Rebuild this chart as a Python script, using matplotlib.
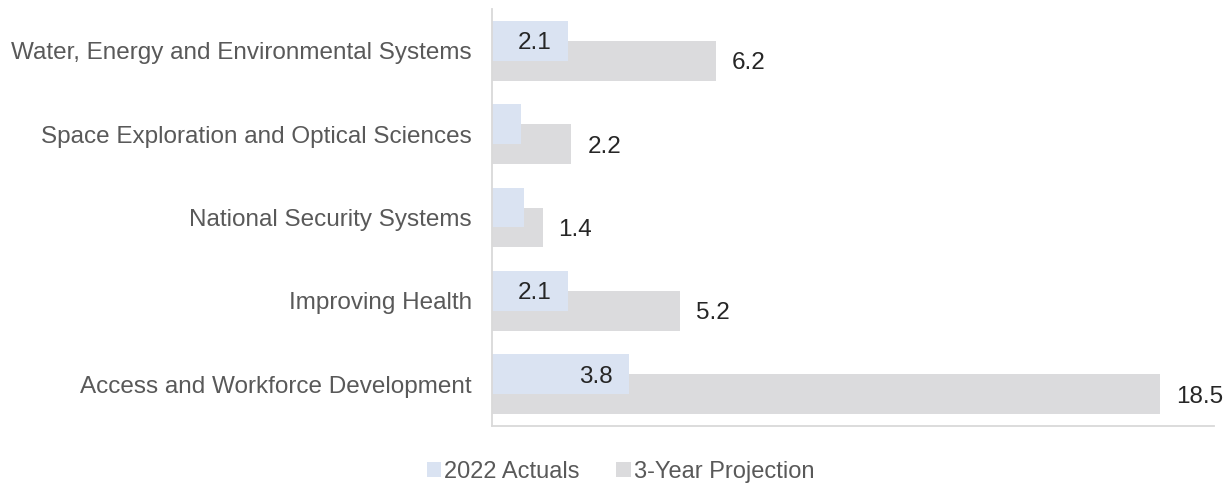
import matplotlib
matplotlib.use("Agg")
import matplotlib.pyplot as plt
import numpy as np
from matplotlib.patches import Patch

categories = ["Water, Energy and Environmental Systems",
              "Space Exploration and Optical Sciences",
              "National Security Systems",
              "Improving Health",
              "Access and Workforce Development"]
actuals_2022 = [2.1, 0.8, 0.9, 2.1, 3.8]
projection_3yr = [6.2, 2.2, 1.4, 5.2, 18.5]
show_actual_label = [True, False, False, True, True]
series_names = ["2022 Actuals", "3-Year Projection"]

plt.rcParams['font.family'] = ['Liberation Sans', 'DejaVu Sans']
FS = 17.5
blue = "#DAE3F2"
grey = "#DBDBDD"
label_grey = "#595959"
val_col = "#262626"

fig = plt.figure(figsize=(12.32, 4.88), dpi=100)
ax = fig.add_axes([492/1232, 1-426/488, (1214-492)/1232, (426-9)/488])

n = len(categories)
y = np.arange(n)[::-1].astype(float)
h = 0.479
off = 0.12
ax.barh(y + off, actuals_2022, height=h, color=blue, zorder=2)
ax.barh(y - off, projection_3yr, height=h, color=grey, zorder=1)

px = 20 / (1214 - 492)  # data units per pixel
for yi, a, p, show in zip(y, actuals_2022, projection_3yr, show_actual_label):
    if show:
        ax.text(a - 16*px, yi + off, f"{a:.1f}", ha="right", va="center_baseline",
                fontsize=FS, color=val_col, zorder=3)
    ax.text(p + 16*px, yi - off, f"{p:.1f}", ha="left", va="center_baseline",
            fontsize=FS, color=val_col, zorder=3)

ax.set_xlim(0, 20)
ax.set_ylim(-0.5, n - 0.5)
ax.set_yticks(y)
ax.set_yticklabels(categories, fontsize=FS, color=label_grey)
ax.tick_params(axis="y", length=0, pad=14.4)
ax.set_xticks([])
for s in ["top", "right"]:
    ax.spines[s].set_visible(False)
for s in ["left", "bottom"]:
    ax.spines[s].set_color("#D9D9D9")
    ax.spines[s].set_linewidth(1.3)

handles = [Patch(facecolor=blue, edgecolor="none"), Patch(facecolor=grey, edgecolor="none")]
leg = fig.legend(handles, series_names, loc="center", bbox_to_anchor=(0.5035, 1-472/488),
                 ncol=2, frameon=False, fontsize=17, handlelength=0.62, handleheight=0.62,
                 handletextpad=0.12, columnspacing=1.55)
for t in leg.get_texts():
    t.set_color(label_grey)

fig.savefig("out.png", dpi=100)
